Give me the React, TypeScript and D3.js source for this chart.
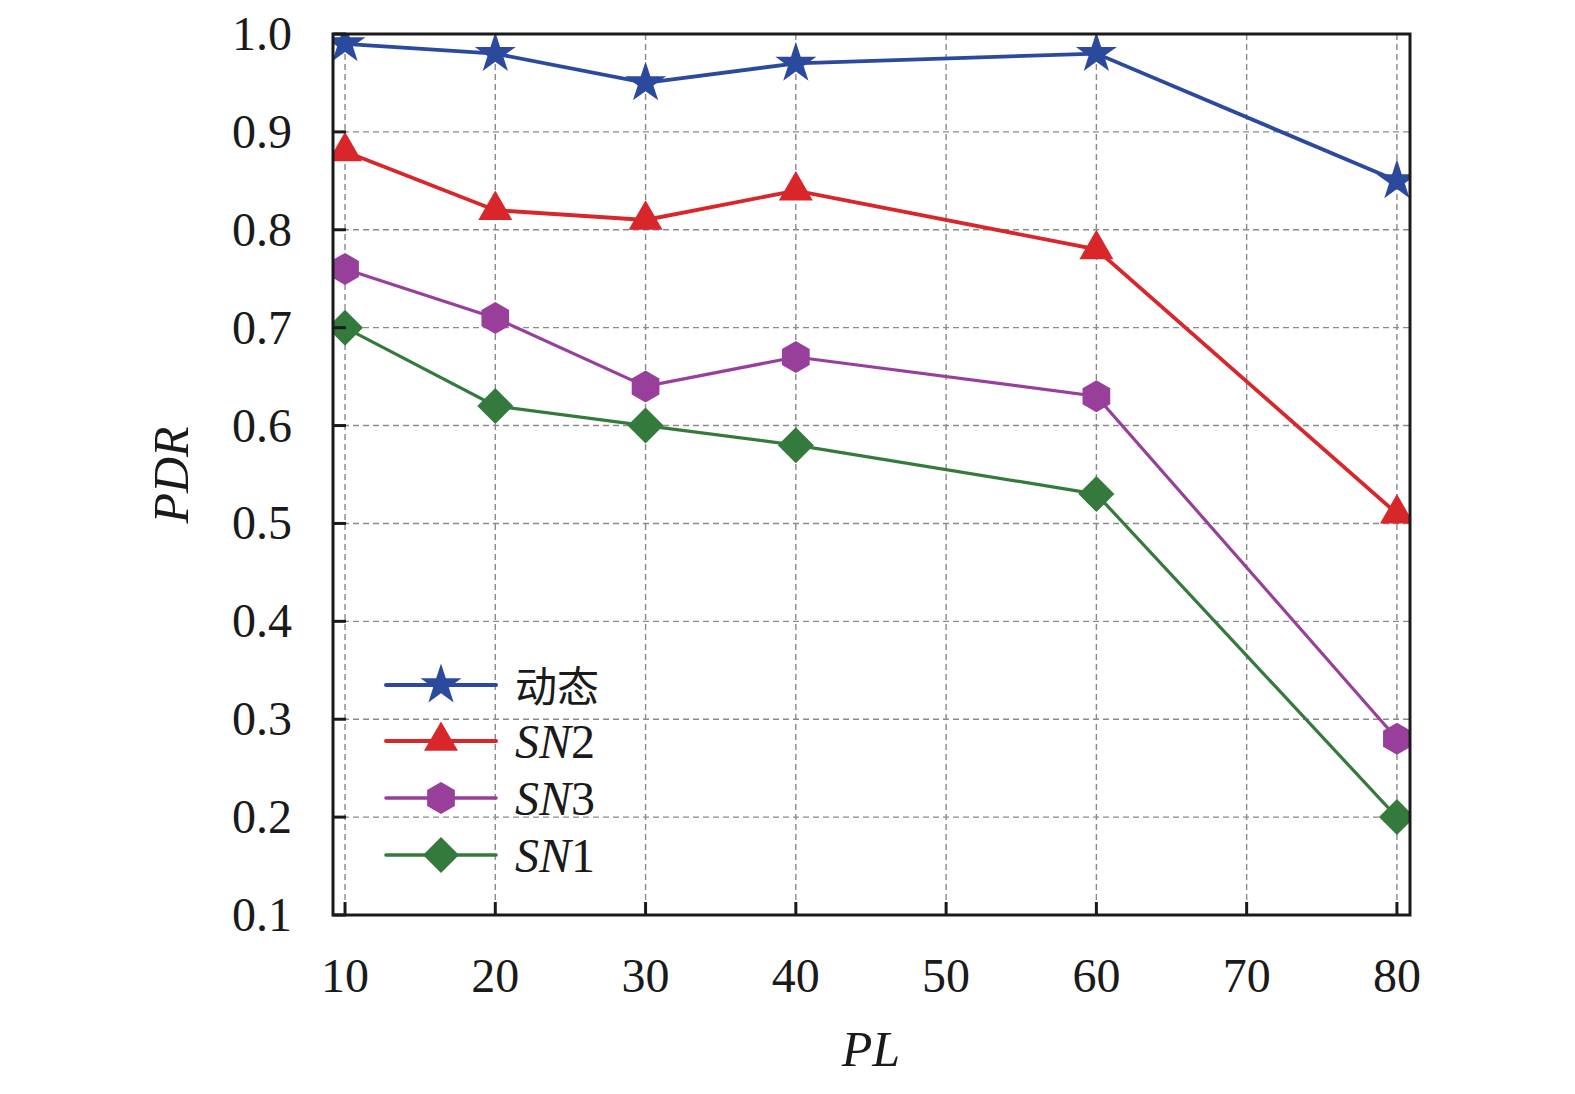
import React, { useEffect, useRef } from 'react';
import * as d3 from 'd3';

const xValues = [10, 20, 30, 40, 60, 80];
const xTicks = [10, 20, 30, 40, 50, 60, 70, 80];
const yTicks = [0.1, 0.2, 0.3, 0.4, 0.5, 0.6, 0.7, 0.8, 0.9, 1.0];

const seriesNames = ['动态', 'SN2', 'SN3', 'SN1'];
const dynamicPdr = [0.99, 0.98, 0.95, 0.97, 0.98, 0.85];
const sn2Pdr = [0.88, 0.82, 0.81, 0.84, 0.78, 0.51];
const sn3Pdr = [0.76, 0.71, 0.64, 0.67, 0.63, 0.28];
const sn1Pdr = [0.70, 0.62, 0.60, 0.58, 0.53, 0.20];

const seriesColors = ['#2c4a9d', '#d8262b', '#983f9c', '#347a3d'];
const seriesShapes = ['star', 'triangle', 'hexagon', 'diamond'];

const FONT = "'Times New Roman', Times, 'Liberation Serif', Tinos, serif";

function markerPath(shape: string): string {
  if (shape === 'star') return d3.symbol(d3.symbolStar, 520)() as string;
  if (shape === 'triangle') return d3.symbol(d3.symbolTriangle, 500)() as string;
  if (shape === 'diamond') {
    const r = 18;
    return `M0,${-r}L${r},0L0,${r}L${-r},0Z`;
  }
  // hexagon, pointy top
  const r = 16;
  const pts = d3.range(6).map(i => {
    const a = -Math.PI / 2 + (i * Math.PI) / 3;
    return [r * Math.cos(a), r * Math.sin(a)];
  });
  return 'M' + pts.map(p => p.join(',')).join('L') + 'Z';
}

const App: React.FC = () => {
  const ref = useRef<SVGSVGElement>(null);

  useEffect(() => {
    if (!ref.current) return;
    const svg = d3.select(ref.current);
    svg.selectAll('*').remove();

    const left = 333, right = 1410, top = 34, bottom = 915;

    const x = d3.scaleLinear().domain([9.2, 80.87]).range([left, right]);
    const y = d3.scaleLinear().domain([0.1, 1.0]).range([bottom, top]);

    svg.append('defs').append('clipPath').attr('id', 'plot-clip')
      .append('rect')
      .attr('x', left).attr('y', top)
      .attr('width', right - left).attr('height', bottom - top);

    // grid
    const grid = svg.append('g')
      .attr('stroke', '#8a8a8a')
      .attr('stroke-width', 1.4)
      .attr('stroke-dasharray', '6,4');
    grid.selectAll('line.v').data(xTicks).join('line')
      .attr('class', 'v')
      .attr('x1', d => x(d)).attr('x2', d => x(d))
      .attr('y1', top).attr('y2', bottom);
    grid.selectAll('line.h').data(yTicks.slice(1, -1)).join('line')
      .attr('class', 'h')
      .attr('x1', left).attr('x2', right)
      .attr('y1', d => y(d)).attr('y2', d => y(d));

    // lines and markers
    const allData = [dynamicPdr, sn2Pdr, sn3Pdr, sn1Pdr];
    const line = d3.line<number>()
      .x((_, i) => x(xValues[i]))
      .y(d => y(d));

    const plot = svg.append('g').attr('clip-path', 'url(#plot-clip)');
    allData.forEach((values, si) => {
      plot.append('path')
        .datum(values)
        .attr('fill', 'none')
        .attr('stroke', seriesColors[si])
        .attr('stroke-width', si < 2 ? 3.8 : 3.2)
        .attr('d', line);
    });
    allData.forEach((values, si) => {
      plot.selectAll(`path.m${si}`).data(values).join('path')
        .attr('class', `m${si}`)
        .attr('d', markerPath(seriesShapes[si]))
        .attr('transform', (d, i) => `translate(${x(xValues[i])},${y(d)})`)
        .attr('fill', seriesColors[si]);
    });

    // frame
    svg.append('rect')
      .attr('x', left).attr('y', top)
      .attr('width', right - left).attr('height', bottom - top)
      .attr('fill', 'none')
      .attr('stroke', '#1a1a1a')
      .attr('stroke-width', 3);

    // inward ticks
    const ticks = svg.append('g').attr('stroke', '#1a1a1a').attr('stroke-width', 3);
    ticks.selectAll('line.xt').data(xTicks).join('line')
      .attr('class', 'xt')
      .attr('x1', d => x(d)).attr('x2', d => x(d))
      .attr('y1', bottom).attr('y2', bottom - 13);
    ticks.selectAll('line.yt').data(yTicks).join('line')
      .attr('class', 'yt')
      .attr('x1', left).attr('x2', left + 13)
      .attr('y1', d => y(d)).attr('y2', d => y(d));

    // tick labels
    svg.append('g').selectAll('text').data(xTicks).join('text')
      .attr('x', d => x(d))
      .attr('y', 992)
      .attr('text-anchor', 'middle')
      .style('font-family', FONT)
      .attr('font-size', 48)
      .attr('fill', '#1a1a1a')
      .text(d => String(d));
    svg.append('g').selectAll('text').data(yTicks).join('text')
      .attr('x', 292)
      .attr('y', d => y(d) + 16)
      .attr('text-anchor', 'end')
      .style('font-family', FONT)
      .attr('font-size', 48)
      .attr('fill', '#1a1a1a')
      .text(d => d.toFixed(1));

    // axis titles
    svg.append('text')
      .attr('x', 871).attr('y', 1066)
      .attr('text-anchor', 'middle')
      .style('font-family', FONT)
      .attr('font-style', 'italic')
      .attr('font-size', 50)
      .attr('fill', '#1a1a1a')
      .text('PL');
    svg.append('text')
      .attr('transform', 'translate(188,475) rotate(-90)')
      .attr('text-anchor', 'middle')
      .style('font-family', FONT)
      .attr('font-style', 'italic')
      .attr('font-size', 50)
      .attr('fill', '#1a1a1a')
      .text('PDR');

    // legend
    const legend = svg.append('g');
    const rowY = [685, 741, 798, 855];
    seriesNames.forEach((name, si) => {
      const g = legend.append('g').attr('transform', `translate(0,${rowY[si]})`);
      g.append('line')
        .attr('x1', 386).attr('x2', 496)
        .attr('y1', 0).attr('y2', 0)
        .attr('stroke', seriesColors[si])
        .attr('stroke-width', si < 2 ? 4 : 3.6)
        .attr('stroke-linecap', 'round');
      g.append('path')
        .attr('d', markerPath(seriesShapes[si]))
        .attr('transform', 'translate(441,0)')
        .attr('fill', seriesColors[si]);
      const t = g.append('text')
        .attr('x', 515).attr('y', 17)
        .style('font-family', si === 0 ? "'Noto Sans CJK SC', sans-serif" : FONT)
        .attr('font-size', si === 0 ? 42 : 48)
        .attr('fill', '#1a1a1a');
      if (si === 0) {
        t.text(name);
      } else {
        t.append('tspan').attr('font-style', 'italic').text(name.slice(0, 2));
        t.append('tspan').text(name.slice(2));
      }
    });
  }, []);

  return (
    <svg ref={ref} width={1575} height={1094} style={{ position: 'absolute', left: 0, top: 0 }}></svg>
  );
};

export default App;
